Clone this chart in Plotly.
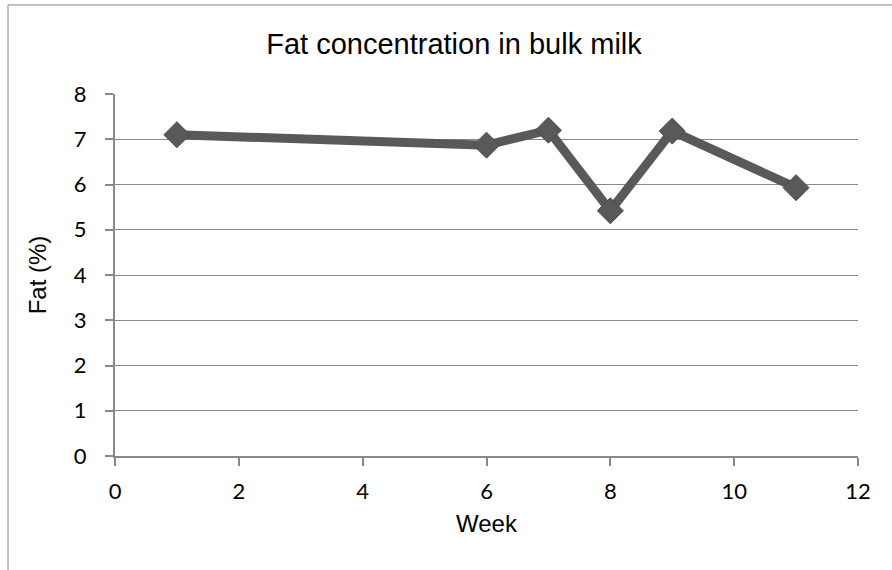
import plotly.graph_objects as go

weeks = [1, 6, 7, 8, 9, 11]
fat_pct = [7.1, 6.87, 7.2, 5.42, 7.18, 5.93]
x_ticks = [0, 2, 4, 6, 8, 10, 12]
y_ticks = [0, 1, 2, 3, 4, 5, 6, 7, 8]

fig = go.Figure()
fig.add_trace(go.Scatter(
    x=weeks, y=fat_pct, mode="lines+markers",
    line=dict(color="#595959", width=9),
    marker=dict(symbol="diamond", size=20, color="#595959",
                line=dict(color="#4a4a4a", width=1)),
    showlegend=False, cliponaxis=False,
))

tick_font = dict(family="Lato, Carlito, Open Sans, sans-serif", size=22, color="#000")
label_font = dict(family="Liberation Sans, Arial, sans-serif", size=24, color="#000")
fig.update_layout(
    width=892, height=570,
    margin=dict(l=115, r=34, t=94, b=114),
    paper_bgcolor="white", plot_bgcolor="white",
    title=dict(text="Fat concentration in bulk milk", x=454 / 892, xanchor="center",
               y=1 - 44 / 570, yanchor="middle",
               font=dict(family="Liberation Sans, Arial, sans-serif", size=29, color="#000")),
    xaxis=dict(range=[0, 12], tickvals=x_ticks, showgrid=False,
               showline=True, linecolor="#888", linewidth=2,
               ticks="outside", ticklen=8, tickcolor="#888", tickwidth=2,
               tickfont=tick_font, zeroline=False, ticklabelstandoff=7,
               title=dict(text="Week", font=label_font, standoff=12)),
    yaxis=dict(range=[0, 8], tickvals=y_ticks, showgrid=True, gridcolor="#888", gridwidth=1,
               showline=True, linecolor="#888", linewidth=2,
               ticks="outside", ticklen=8, tickcolor="#888", tickwidth=2,
               tickfont=tick_font, zeroline=False, ticklabelstandoff=14,
               title=dict(text="Fat (%)", font=label_font, standoff=20)),
    shapes=[dict(type="rect", xref="paper", yref="paper",
                 x0=-0.144, x1=1.06, y0=-0.35, y1=1.246,
                 line=dict(color="#888", width=1), fillcolor="rgba(0,0,0,0)", layer="below")],
)
fig.write_html("out.html", config={"displayModeBar": False},
               post_script="document.body.style.margin='0px';")
